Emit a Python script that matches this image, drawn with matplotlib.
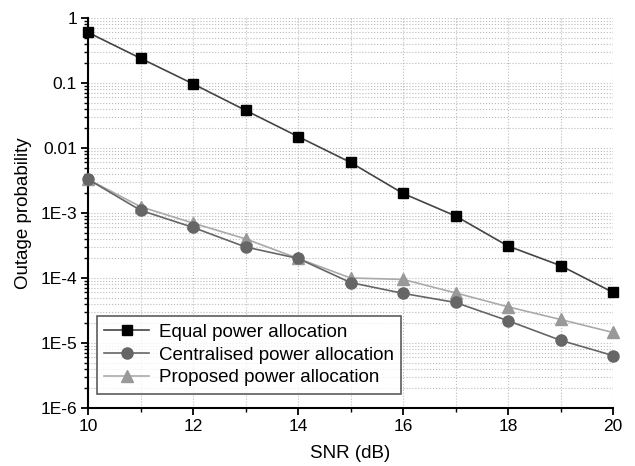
import numpy as np
import matplotlib.pyplot as plt
from matplotlib.ticker import LogLocator, FixedLocator, FixedFormatter, MultipleLocator

plt.rcParams['font.family'] = ['Liberation Sans', 'DejaVu Sans']

snr = [10, 11, 12, 13, 14, 15, 16, 17, 18, 19, 20]
equal = [0.6, 0.24, 0.097, 0.038, 0.015, 0.006, 0.002, 9e-4, 3.1e-4, 1.55e-4, 6e-5]
central = [3.3e-3, 1.1e-3, 6e-4, 3e-4, 2e-4, 8.5e-5, 5.8e-5, 4.2e-5, 2.2e-5, 1.1e-5, 6.4e-6]
proposed = [3.3e-3, 1.25e-3, 7e-4, 4e-4, 2e-4, 1e-4, 9.5e-5, 5.9e-5, 3.6e-5, 2.3e-5, 1.45e-5]

ytick_vals = [1, 0.1, 0.01, 1e-3, 1e-4, 1e-5, 1e-6]
ytick_labels = ['1', '0.1', '0.01', '1E-3', '1E-4', '1E-5', '1E-6']

fig = plt.figure(figsize=(6.35, 4.66), dpi=100)
ax = fig.add_axes([0.1386, 0.1245, 0.8268, 0.8369])

ax.plot(snr, equal, '-', color='#444444', lw=1.2, marker='s', ms=7,
        mfc='black', mec='black', label='Equal power allocation', clip_on=False, zorder=5)
ax.plot(snr, central, '-', color='#666666', lw=1.2, marker='o', ms=8,
        mfc='#666666', mec='#666666', label='Centralised power allocation', clip_on=False, zorder=4)
ax.plot(snr, proposed, '-', color='#aaaaaa', lw=1.2, marker='^', ms=8,
        mfc='#999999', mec='#999999', label='Proposed power allocation', clip_on=False, zorder=3)

ax.set_yscale('log')
ax.set_xlim(10, 20)
ax.set_ylim(1e-6, 1)

ax.xaxis.set_major_locator(MultipleLocator(2))
ax.xaxis.set_minor_locator(MultipleLocator(1))
ax.yaxis.set_major_locator(FixedLocator(ytick_vals))
ax.yaxis.set_major_formatter(FixedFormatter(ytick_labels))
ax.yaxis.set_minor_locator(LogLocator(base=10, subs=np.arange(2, 10), numticks=20))
ax.yaxis.set_minor_formatter(plt.NullFormatter())

ax.grid(True, which='both', axis='x', color='#bbbbbb', ls=':', lw=0.8)
ax.grid(True, which='both', axis='y', color='#bbbbbb', ls=':', lw=0.8)

for s in ['top', 'right']:
    ax.spines[s].set_visible(False)
for s in ['left', 'bottom']:
    ax.spines[s].set_linewidth(1.5)

ax.tick_params(which='major', direction='out', length=5, width=1.3, labelsize=12.5, pad=3)
ax.tick_params(which='minor', direction='out', length=3, width=1)

ax.set_xlabel('SNR (dB)', fontsize=13.5, labelpad=8)
ax.set_ylabel('Outage probability', fontsize=13.5, labelpad=6)

leg = ax.legend(loc='lower left', bbox_to_anchor=(0.017, 0.036), fontsize=13.5,
                frameon=True, fancybox=False, edgecolor='#333333',
                handlelength=2.4, handletextpad=0.5, borderpad=0.4,
                labelspacing=0.3, borderaxespad=0)
leg.get_frame().set_linewidth(1.2)

fig.savefig('out.png', dpi=100)
